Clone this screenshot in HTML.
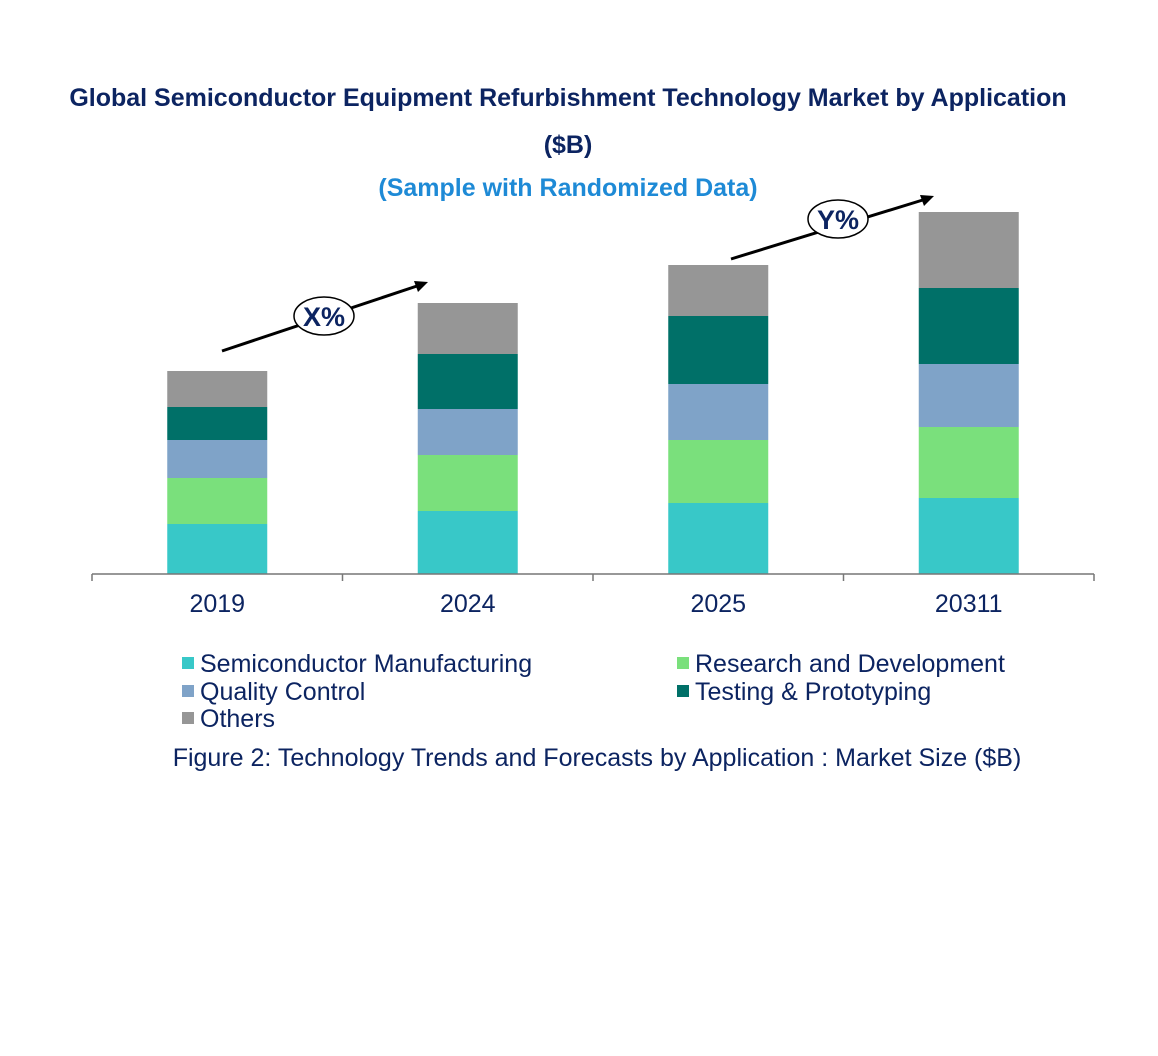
<!DOCTYPE html>
<html><head><meta charset="utf-8"><style>
body{margin:0;background:#fff;width:1158px;height:1051px;overflow:hidden}
svg text{font-family:"Liberation Sans",Arial,sans-serif}
</style></head><body>
<svg id="chart" width="1158" height="1051">
<text x="568" y="106" text-anchor="middle" font-size="25" font-weight="bold" fill="#0c2461">Global Semiconductor Equipment Refurbishment Technology Market by Application</text>
<text x="568" y="153" text-anchor="middle" font-size="25" font-weight="bold" fill="#0c2461">($B)</text>
<text x="568" y="196" text-anchor="middle" font-size="25" font-weight="bold" fill="#1e8ad6">(Sample with Randomized Data)</text>
<g id="bars"></g>
<line x1="92" y1="574" x2="1094" y2="574" stroke="#777" stroke-width="1.5"/>
<g id="ticks"></g>
<line x1="222" y1="351" x2="420" y2="285" stroke="#000" stroke-width="3"/>
<polygon points="428,282 414,281 418,292" fill="#000"/>
<ellipse cx="324" cy="316" rx="30" ry="19" fill="#fff" stroke="#000" stroke-width="1.5"/>
<text x="324" y="326" text-anchor="middle" font-size="27" font-weight="bold" fill="#0c2461">X%</text>
<line x1="731" y1="259" x2="926" y2="199" stroke="#000" stroke-width="3"/>
<polygon points="934,196 920,195 924,206" fill="#000"/>
<ellipse cx="838" cy="219" rx="30" ry="19" fill="#fff" stroke="#000" stroke-width="1.5"/>
<text x="838" y="229" text-anchor="middle" font-size="27" font-weight="bold" fill="#0c2461">Y%</text>
<g id="legend" font-size="25" fill="#0c2461"></g>
<text x="597" y="766" text-anchor="middle" font-size="25" fill="#0c2461">Figure 2: Technology Trends and Forecasts by Application : Market Size ($B)</text>
</svg>
<script>
const categories=["2019","2024","2025","20311"];
const seriesNames=["Semiconductor Manufacturing","Research and Development","Quality Control","Testing & Prototyping","Others"];
const semiconductorManufacturing=[5.0,6.3,7.1,7.6];
const researchDevelopment=[4.6,5.6,6.3,7.1];
const qualityControl=[3.8,4.6,5.6,6.3];
const testingPrototyping=[3.3,5.5,6.8,7.6];
const others=[3.6,5.1,5.1,7.6];
const colors=["#38c8c8","#7ae07c","#7fa3c8","#007068","#969696"];
const series=[semiconductorManufacturing,researchDevelopment,qualityControl,testingPrototyping,others];
const NS="http://www.w3.org/2000/svg";
const baseY=574,pxPerUnit=10,plotL=92,plotR=1094,barW=100;
const band=(plotR-plotL)/categories.length;
const xC=i=>plotL+band*(i+0.5);
const yS=v=>v*pxPerUnit;
const bars=document.getElementById('bars');
categories.forEach((c,i)=>{
  let acc=0;
  series.forEach((s,k)=>{
    const r=document.createElementNS(NS,'rect');
    const h=yS(s[i]);
    r.setAttribute('x',xC(i)-barW/2);r.setAttribute('y',baseY-yS(acc)-h);
    r.setAttribute('width',barW);r.setAttribute('height',h);r.setAttribute('fill',colors[k]);
    
    
    bars.appendChild(r);acc+=s[i];
  });
  const t=document.createElementNS(NS,'text');
  t.setAttribute('x',xC(i));t.setAttribute('y',612);t.setAttribute('text-anchor','middle');
  t.setAttribute('font-size','25');t.setAttribute('fill','#0c2461');t.textContent=c;
  
  
  document.getElementById('ticks').appendChild(t);
});
for(let i=0;i<=categories.length;i++){
  const l=document.createElementNS(NS,'line');
  const x=plotL+band*i;
  l.setAttribute('x1',x);l.setAttribute('x2',x);l.setAttribute('y1',574);l.setAttribute('y2',581);
  l.setAttribute('stroke','#777');l.setAttribute('stroke-width','1.5');
  
  
  document.getElementById('ticks').appendChild(l);
}
const legPos=[[182,663],[677,663],[182,691],[677,691],[182,718]];
const legOrder=[0,1,2,3,4];
legOrder.forEach((k,j)=>{
  const g=document.createElementNS(NS,'g');
  
  
  const r=document.createElementNS(NS,'rect');
  r.setAttribute('x',legPos[j][0]);r.setAttribute('y',legPos[j][1]-6);r.setAttribute('width',12);r.setAttribute('height',12);r.setAttribute('fill',colors[k]);
  const t=document.createElementNS(NS,'text');
  t.setAttribute('x',legPos[j][0]+18);t.setAttribute('y',legPos[j][1]+9);t.textContent=seriesNames[k];
  g.appendChild(r);g.appendChild(t);
  document.getElementById('legend').appendChild(g);
});
</script>
</body></html>
